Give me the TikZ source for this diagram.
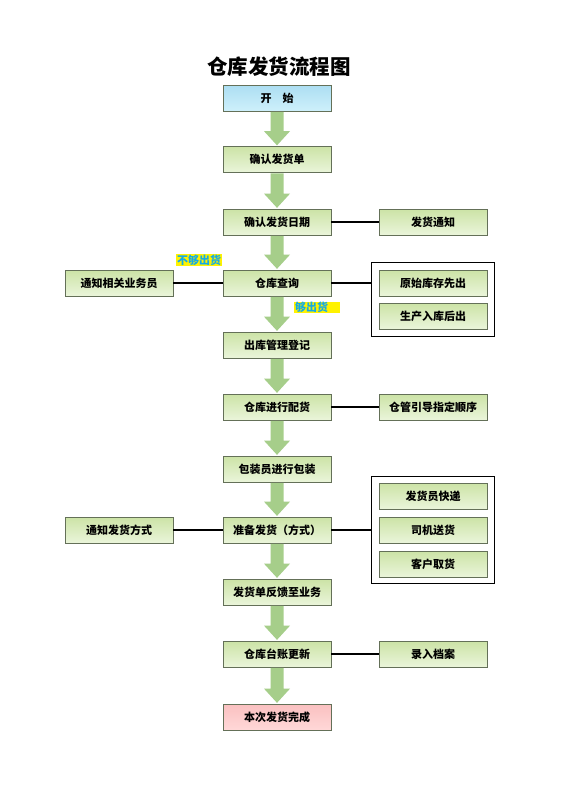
\documentclass[tikz,border=0pt]{standalone}
\usepackage{fontspec}
\setmainfont{Noto Sans CJK SC}
\usetikzlibrary{calc,fit}
\definecolor{arrowg}{RGB}{166,206,138}
\definecolor{gtop}{RGB}{204,227,166}
\definecolor{gbot}{RGB}{234,245,218}
\definecolor{btop}{RGB}{172,222,242}
\definecolor{bbot}{RGB}{206,240,251}
\definecolor{ptop}{RGB}{250,192,192}
\definecolor{pbot}{RGB}{255,216,216}
\definecolor{edge}{RGB}{100,112,88}
\definecolor{lbltext}{RGB}{20,170,230}
\tikzset{
  box/.style={rectangle, draw=edge, line width=0.7pt, top color=gtop, bottom color=gbot,
    minimum width=108pt, minimum height=26pt, inner sep=0pt,
    font=\fontsize{11}{13}\selectfont\bfseries},
  startbox/.style={box, top color=btop, bottom color=bbot},
  endbox/.style={box, top color=ptop, bottom color=pbot},
  link/.style={draw=black, line width=1.2pt},
  frame/.style={draw=black, line width=1.5pt, rectangle},
  lbl/.style={fill=yellow, text=lbltext, inner xsep=1pt, inner ysep=0.5pt,
    font=\fontsize{11}{12}\selectfont\bfseries},
  bigarrow/.style={fill=arrowg, draw=none}
}
\newcommand{\blockarr}[2]{%
  \path[bigarrow] let \p1=(#1.south), \p2=(#2.north) in
    (\x1-6.5pt,\y1-0.5pt) -- (\x1+6.5pt,\y1-0.5pt) -- (\x1+6.5pt,\y2+15pt) --
    (\x1+13pt,\y2+15pt) -- (\x1,\y2+0.8pt) -- (\x1-13pt,\y2+15pt) --
    (\x1-6.5pt,\y2+15pt) -- cycle;}
\begin{document}
\begin{tikzpicture}[x=1pt,y=-1pt]
\useasboundingbox (0,0) rectangle (560,792);
\fill[white] (0,0) rectangle (560,792);
\node[font=\fontsize{20.5}{24}\selectfont\bfseries] (title) at (279,67) {仓库发货流程图};
% main column
\node[startbox] (m0) at (277,98) {开\hspace{1em}始};
\node[box] (m1) at (277,159.5) {确认发货单};
\node[box] (m2) at (277,222) {确认发货日期};
\node[box] (m3) at (277,283) {仓库查询};
\node[box] (m4) at (277,345) {出库管理登记};
\node[box] (m5) at (277,407) {仓库进行配货};
\node[box] (m6) at (277,469) {包装员进行包装};
\node[box] (m7) at (277,530) {准备发货（方式）};
\node[box] (m8) at (277,592) {发货单反馈至业务};
\node[box] (m9) at (277,654) {仓库台账更新};
\node[endbox] (m10) at (277,717) {本次发货完成};
% arrows
\blockarr{m0}{m1}
\blockarr{m1}{m2}
\blockarr{m2}{m3}
\blockarr{m3}{m4}
\blockarr{m4}{m5}
\blockarr{m5}{m6}
\blockarr{m6}{m7}
\blockarr{m7}{m8}
\blockarr{m8}{m9}
\blockarr{m9}{m10}
% right side
\node[box] (r1) at (433,222) {发货通知};
\node[box] (r2) at (433,283) {原始库存先出};
\node[box] (r3) at (433,316) {生产入库后出};
\node[box] (r4) at (433,407) {仓管引导指定顺序};
\node[box] (r5) at (433,496) {发货员快递};
\node[box] (r6) at (433,530) {司机送货};
\node[box] (r7) at (433,564) {客户取货};
\node[box] (r8) at (433,654) {录入档案};
\node[frame, fit=(r2)(r3), inner xsep=7pt, inner ysep=7pt] (f1) {};
\node[frame, fit=(r5)(r7), inner xsep=7pt, inner ysep=6pt] (f2) {};
% left side
\node[box] (l1) at (119,283) {通知相关业务员};
\node[box] (l2) at (119,530) {通知发货方式};
% links
\draw[link] (m2.east) -- (r1.west);
\draw[link] (m3.east) -- (m3.east -| f1.west);
\draw[link] (m3.west) -- (l1.east);
\draw[link] (m5.east) -- (r4.west);
\draw[link] (m7.east) -- (m7.east -| f2.west);
\draw[link] (m7.west) -- (l2.east);
\draw[link] (m9.east) -- (r8.west);
% labels
\node[lbl] (nl) at (199,260) {不够出货};
\node[lbl, text width=44pt, align=left, anchor=west] (yl) at (294,307.5) {够出货};
\end{tikzpicture}
\end{document}
